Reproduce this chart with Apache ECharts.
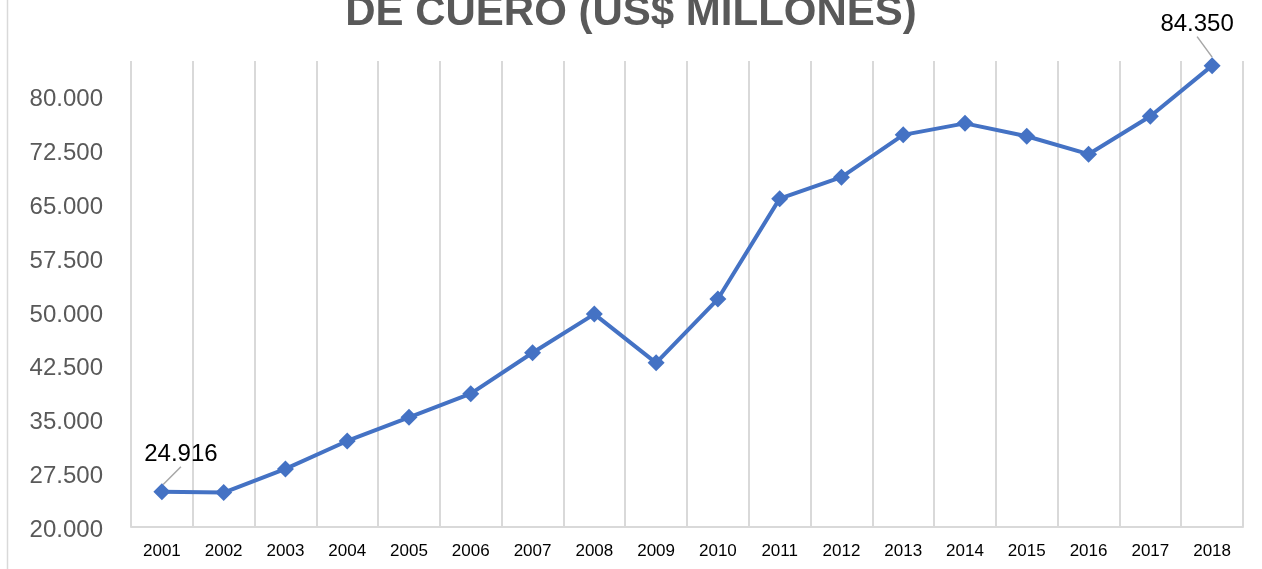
<!DOCTYPE html>
<html>
<head>
<meta charset="utf-8">
<script src="https://cdn.jsdelivr.net/npm/echarts@6/dist/echarts.min.js"></script>
<style>
html,body{margin:0;padding:0;background:#fff;}
#c{width:1262px;height:569px;}
</style>
</head>
<body>
<div id="c"></div>
<script>
const titleText = 'DE CUERO (US$ MILLONES)';
const years = ['2001','2002','2003','2004','2005','2006','2007','2008','2009','2010','2011','2012','2013','2014','2015','2016','2017','2018'];
const values = [24916, 24800, 28100, 32000, 35300, 38600, 44300, 49700, 42900, 51800, 65800, 68800, 74700, 76300, 74500, 72000, 77300, 84350];
const labeledIdx = [0, 17];
const yMin = 20000, yMax = 85000, yStep = 7500;

function fmt(v) {
  const s = String(Math.round(v));
  return s.replace(/\B(?=(\d{3})+(?!\d))/g, '.');
}

const chart = echarts.init(document.getElementById('c'), null, {renderer: 'canvas'});
const font = '"Liberation Sans", Arial, sans-serif';

const data = values.map((v, i) => {
  if (labeledIdx.indexOf(i) >= 0) {
    return {value: v, label: {show: true}, labelLine: {show: true}};
  }
  return v;
});

chart.setOption({
  animation: false,
  backgroundColor: '#ffffff',
  title: {
    text: titleText,
    left: 'center',
    top: -13,
    textStyle: {fontFamily: font, fontSize: 42, fontWeight: 'bold', color: '#595959'}
  },
  graphic: [{
    type: 'line',
    shape: {x1: 7.5, y1: 0, x2: 7.5, y2: 569},
    style: {stroke: '#d9d9d9', lineWidth: 1.5}
  }],
  grid: {left: 131, right: 19, top: 61, bottom: 42, containLabel: false},
  xAxis: {
    type: 'category',
    data: years,
    boundaryGap: true,
    axisLine: {show: true, lineStyle: {color: '#d9d9d9', width: 2}},
    axisTick: {show: false},
    splitLine: {show: true, lineStyle: {color: '#d9d9d9', width: 2}},
    axisLabel: {fontFamily: font, fontSize: 17, color: '#000000', margin: 16, interval: 0}
  },
  yAxis: {
    type: 'value',
    min: yMin,
    max: yMax,
    interval: yStep,
    axisLine: {show: false},
    axisTick: {show: false},
    splitLine: {show: false},
    axisLabel: {
      fontFamily: font, fontSize: 24, color: '#595959', margin: 28,
      showMaxLabel: false,
      formatter: function (v) { return v > 84000 ? '' : '{a|' + fmt(v) + '}'; },
      rich: {a: {fontFamily: font, fontSize: 24, color: '#595959', padding: [6, 0, 0, 0]}}
    }
  },
  series: [{
    type: 'line',
    data: data,
    symbol: 'diamond',
    symbolSize: 17,
    itemStyle: {color: '#4472C4'},
    lineStyle: {color: '#4472C4', width: 4},
    label: {
      show: false,
      position: 'inside',
      fontFamily: font,
      fontSize: 24,
      color: '#000000',
      formatter: function (p) { return fmt(p.value); }
    },
    labelLine: {show: false, lineStyle: {color: '#a6a6a6', width: 1.5}},
    labelLayout: function (params) {
      if (params.dataIndex === 0) return {dx: 19, dy: -37};
      if (params.dataIndex === 17) return {dx: -15, dy: -41};
      return {};
    }
  }]
});
</script>
</body>
</html>
